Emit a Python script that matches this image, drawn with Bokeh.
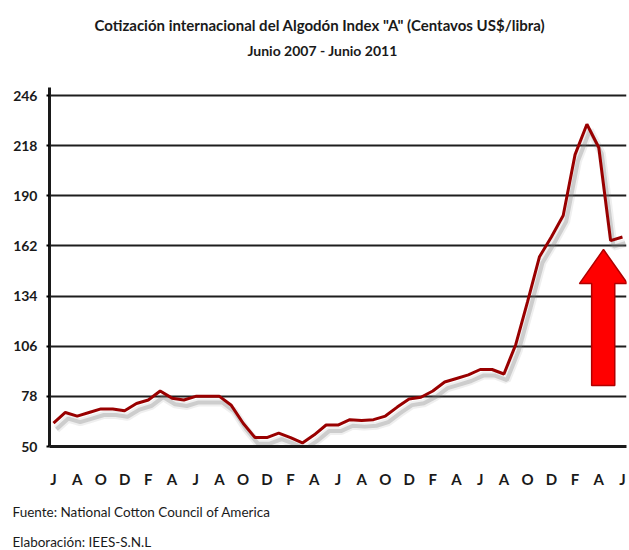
from bokeh.plotting import figure
from bokeh.models import Range1d, Title, LinearAxis, FixedTicker
from bokeh.embed import file_html
from bokeh.resources import INLINE

# ---- data ----
month_initials = ["J", "J", "A", "S", "O", "N", "D", "E", "F", "M", "A", "M"]  # Jun .. May
n_months = 49  # Junio 2007 - Junio 2011
month_idx = list(range(n_months))
month_labels = [month_initials[i % 12] for i in month_idx]

prices = [63, 69, 67, 69, 71, 71, 70, 74, 76, 81, 77, 76,
          78, 78, 78, 73, 63, 55, 55, 57.5, 55, 52, 56.5, 62,
          62, 65, 64.5, 65, 67, 72, 76.5, 77.5, 81, 86, 88, 90,
          93, 93, 90.5, 107, 131, 156, 167, 179, 213, 230, 217, 165,
          167]

y_ticks = [50, 78, 106, 134, 162, 190, 218, 246]
x_ticks = month_idx[::2]

title_1 = 'Cotización internacional  del Algodón Index "A" (Centavos US$/libra)'
title_2 = "Junio 2007 - Junio 2011"
source_1 = "Fuente: National Cotton Council of America"
source_2 = "Elaboración: IEES-S.N.L"

# decorative arrow (month index / price units)
arrow_x = [46.4, 48.42, 47.35, 47.35, 45.4, 45.4, 44.37]
arrow_y = [160, 141, 141, 84, 84, 141, 141]

FONT = "Lato"
TXT = "#1a1a1a"

p = figure(width=629, height=550, output_backend="svg", toolbar_location=None,
           x_range=Range1d(-0.3374, 48.34), y_range=Range1d(50, 250.5),
           min_border_left=49, min_border_right=3, min_border_top=87, min_border_bottom=104)
p.background_fill_color = "white"
p.border_fill_color = "white"
p.outline_line_color = None

# shadow
sx = [m + 0.25 for m in month_idx]
sy = [v - 3.4 for v in prices]
p.line(sx, sy, line_color="#7f7f7f", line_width=8, line_alpha=0.12)
p.line(sx, sy, line_color="#7f7f7f", line_width=4, line_alpha=0.3)
# main line
p.line(month_idx, prices, line_color="#990000", line_width=3)

# arrow
p.patch(arrow_x, arrow_y, fill_color="#ff0000", line_color="#b00000", line_width=1.5)

# axes
p.yaxis.ticker = y_ticks
p.yaxis.major_label_text_font = FONT
p.yaxis.major_label_text_font_style = "bold"
p.yaxis.major_label_text_font_size = "14px"
p.yaxis.major_label_text_color = TXT
p.yaxis.axis_line_width = 3
p.yaxis.axis_line_color = TXT
p.yaxis.major_tick_out = 3
p.yaxis.major_tick_in = 0
p.yaxis.major_tick_line_width = 2
p.yaxis.minor_tick_line_color = None
p.yaxis.major_label_standoff = 9

p.xaxis.ticker = x_ticks
p.xaxis.major_label_overrides = {i: month_labels[i] for i in x_ticks}
p.xaxis.major_label_text_font = FONT
p.xaxis.major_label_text_font_style = "bold"
p.xaxis.major_label_text_font_size = "15px"
p.xaxis.major_label_text_color = TXT
p.xaxis.axis_line_width = 3
p.xaxis.axis_line_color = TXT
p.xaxis.major_tick_out = 0
p.xaxis.major_tick_in = 0
p.xaxis.minor_tick_line_color = None
p.xaxis.major_label_standoff = 23

p.xgrid.grid_line_color = None
p.ygrid.ticker = y_ticks
p.ygrid.grid_line_color = "#1e1e1e"
p.ygrid.grid_line_width = 2

# second title line: single label of a bare axis above the plot
title_2_pos = 22.7
sub_axis = LinearAxis(ticker=FixedTicker(ticks=[title_2_pos]),
                      major_label_overrides={title_2_pos: title_2},
                      axis_line_color=None, major_tick_line_color=None, minor_tick_line_color=None,
                      major_tick_out=0, major_tick_in=0, major_label_standoff=29,
                      major_label_text_font=FONT, major_label_text_font_style="bold",
                      major_label_text_font_size="14px", major_label_text_color=TXT)
p.add_layout(sub_axis, "above")
# first title line
p.add_layout(Title(text=title_1, text_font=FONT, text_font_style="bold", text_font_size="15px",
                   text_color=TXT, align="left", vertical_align="middle",
                   offset=45, standoff=7), "above")
# source notes
p.add_layout(Title(text=source_1, text_font=FONT, text_font_style="normal", text_font_size="13.5px",
                   text_color=TXT, align="left", vertical_align="middle",
                   offset=-37, standoff=25), "below")
p.add_layout(Title(text=source_2, text_font=FONT, text_font_style="normal", text_font_size="13.5px",
                   text_color=TXT, align="left", vertical_align="middle",
                   offset=-37, standoff=-2), "below")

open("out.html", "w").write(file_html(p, INLINE))
